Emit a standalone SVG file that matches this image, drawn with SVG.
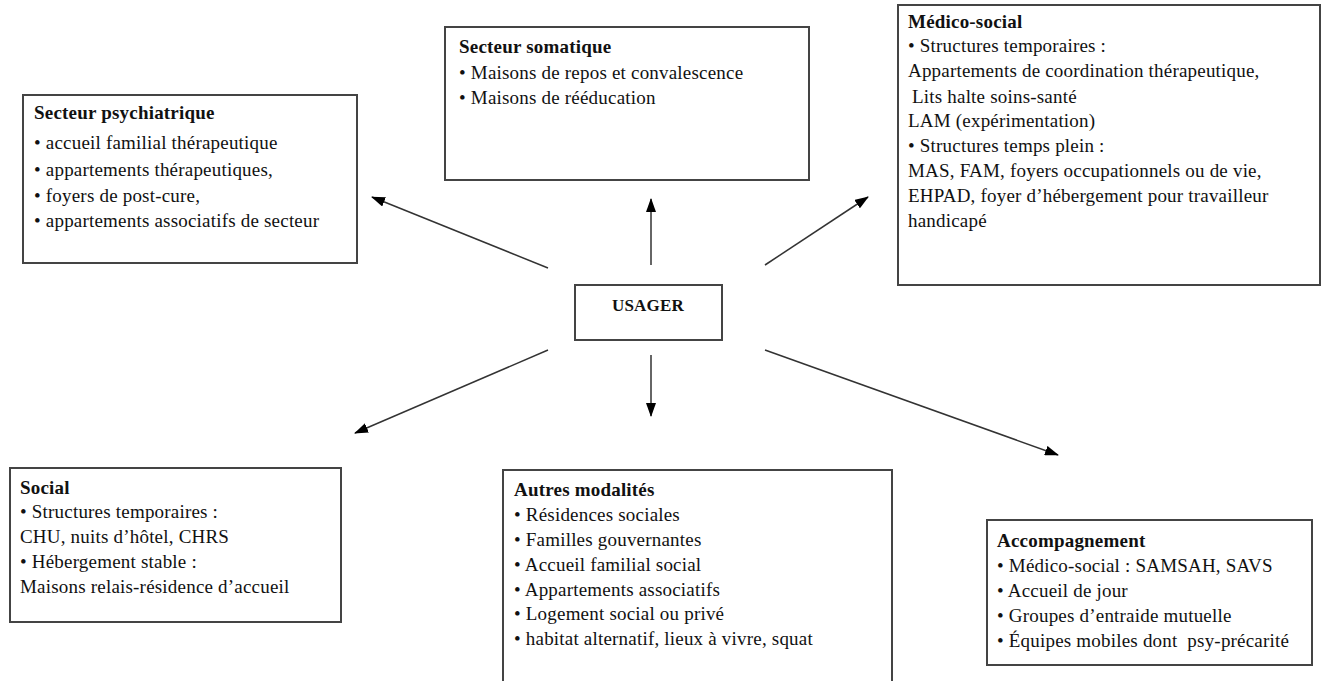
<svg xmlns="http://www.w3.org/2000/svg" width="1325" height="681" viewBox="0 0 1325 681">
<defs>
<marker id="ah" viewBox="0 0 14 10" refX="13" refY="5" markerWidth="14" markerHeight="10" markerUnits="userSpaceOnUse" orient="auto">
<path d="M0,0 L14,5 L0,10 Z" fill="#000"/>
</marker>
<style>
.box{fill:#fff;stroke:#444;stroke-width:2}
.t{font-family:"Liberation Serif","Times New Roman",serif;font-size:19px;letter-spacing:0.2px;fill:#111}
.h{font-family:"Liberation Serif","Times New Roman",serif;font-size:19px;font-weight:bold;letter-spacing:0.2px;fill:#111}
.c{stroke:#333;stroke-width:1.5;fill:none;marker-end:url(#ah)}
</style>
</defs>
<rect width="1325" height="681" fill="#fff"/>
<g id="psychiatrique">
<rect class="box" x="23" y="95" width="334" height="168"/>
<text class="h" x="34" y="119">Secteur psychiatrique</text>
<text class="t" x="34" y="149">• accueil familial thérapeutique</text>
<text class="t" x="34" y="176">• appartements thérapeutiques,</text>
<text class="t" x="34" y="202">• foyers de post-cure,</text>
<text class="t" x="34" y="227">• appartements associatifs de secteur</text>
</g>
<g id="somatique">
<rect class="box" x="445" y="27" width="364" height="153"/>
<text class="h" x="459" y="53">Secteur somatique</text>
<text class="t" x="459" y="79">• Maisons de repos et convalescence</text>
<text class="t" x="459" y="104">• Maisons de rééducation</text>
</g>
<g id="medico-social">
<rect class="box" x="898" y="5" width="422" height="280"/>
<text class="h" x="908" y="28">Médico-social</text>
<text class="t" x="908" y="52">• Structures temporaires :</text>
<text class="t" x="908" y="77">Appartements de coordination thérapeutique,</text>
<text class="t" x="912" y="103">Lits halte soins-santé</text>
<text class="t" x="908" y="127">LAM (expérimentation)</text>
<text class="t" x="908" y="152">• Structures temps plein :</text>
<text class="t" x="908" y="177">MAS, FAM, foyers occupationnels ou de vie,</text>
<text class="t" x="908" y="202">EHPAD, foyer d’hébergement pour travailleur</text>
<text class="t" x="908" y="227">handicapé</text>
</g>
<g id="usager">
<rect class="box" x="575" y="285" width="147" height="55"/>
<text class="h" x="648" y="311" text-anchor="middle" style="font-size:17px">USAGER</text>
</g>
<g id="social">
<rect class="box" x="10" y="468" width="331" height="154"/>
<text class="h" x="20" y="494">Social</text>
<text class="t" x="20" y="518">• Structures temporaires :</text>
<text class="t" x="20" y="543">CHU, nuits d’hôtel, CHRS</text>
<text class="t" x="20" y="568">• Hébergement stable :</text>
<text class="t" x="20" y="593">Maisons relais-résidence d’accueil</text>
</g>
<g id="autres">
<rect class="box" x="503" y="470" width="389" height="215"/>
<text class="h" x="514" y="496">Autres modalités</text>
<text class="t" x="514" y="521">• Résidences sociales</text>
<text class="t" x="514" y="546">• Familles gouvernantes</text>
<text class="t" x="514" y="571">• Accueil familial social</text>
<text class="t" x="514" y="596">• Appartements associatifs</text>
<text class="t" x="514" y="620">• Logement social ou privé</text>
<text class="t" x="514" y="645">• habitat alternatif, lieux à vivre, squat</text>
</g>
<g id="accompagnement">
<rect class="box" x="987" y="520" width="325" height="145"/>
<text class="h" x="997" y="547">Accompagnement</text>
<text class="t" x="997" y="572">• Médico-social : SAMSAH, SAVS</text>
<text class="t" x="997" y="597">• Accueil de jour</text>
<text class="t" x="997" y="622">• Groupes d’entraide mutuelle</text>
<text class="t" x="997" y="647" style="white-space:pre">• Équipes mobiles dont  psy-précarité</text>
</g>
<g id="connectors">
<line class="c" x1="548" y1="268" x2="372" y2="197"/>
<line class="c" x1="651" y1="265" x2="651" y2="199"/>
<line class="c" x1="765" y1="265" x2="868" y2="197"/>
<line class="c" x1="548" y1="350" x2="355" y2="433"/>
<line class="c" x1="651" y1="355" x2="651" y2="416"/>
<line class="c" x1="765" y1="350" x2="1058" y2="455"/>
</g>
</svg>
